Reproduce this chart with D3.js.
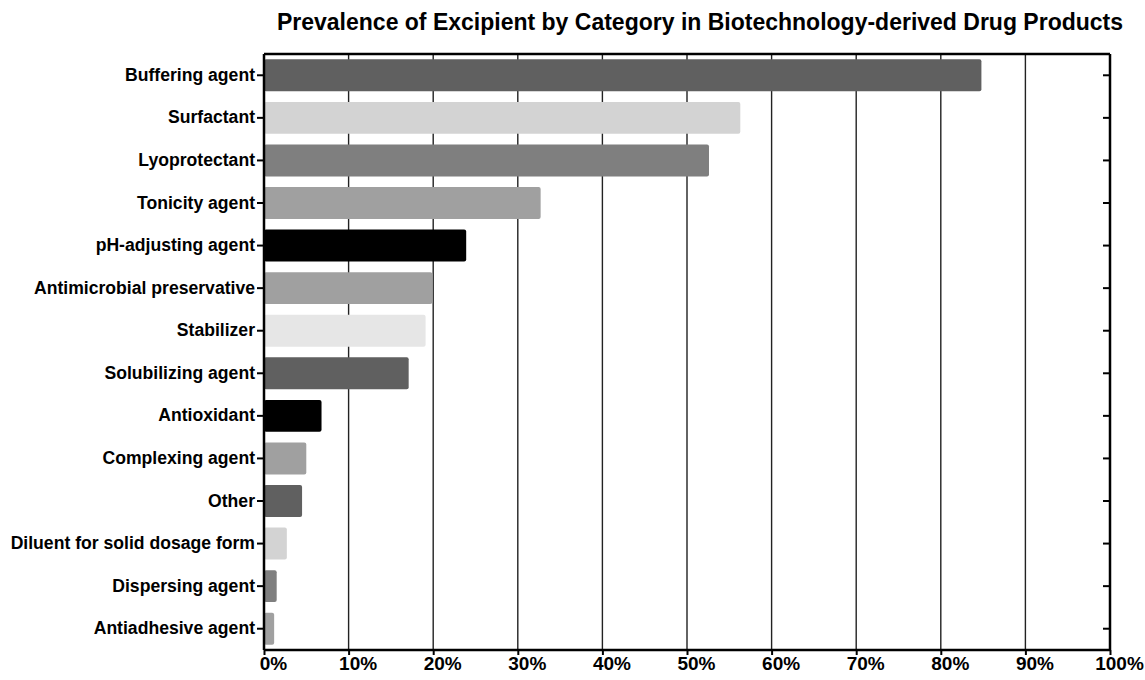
<!DOCTYPE html>
<html><head><meta charset="utf-8">
<script src="https://cdn.jsdelivr.net/npm/d3@7/dist/d3.min.js"></script>
<style>body{margin:0;background:#fff}svg{display:block}text{font-family:"Liberation Sans",Arial,sans-serif}</style>
</head><body>
<svg id="c" width="1145" height="680"></svg>
<script>
const categories = ["Buffering agent","Surfactant","Lyoprotectant","Tonicity agent","pH-adjusting agent","Antimicrobial preservative","Stabilizer","Solubilizing agent","Antioxidant","Complexing agent","Other","Diluent for solid dosage form","Dispersing agent","Antiadhesive agent"];
const values = [84.8, 56.3, 52.6, 32.7, 23.9, 19.9, 19.1, 17.1, 6.8, 5.0, 4.5, 2.7, 1.5, 1.2];
const barColors = ["#606060","#d3d3d3","#7f7f7f","#a0a0a0","#000000","#a0a0a0","#e6e6e6","#606060","#000000","#a0a0a0","#606060","#d3d3d3","#7f7f7f","#a0a0a0"];
const xTicks = [0,10,20,30,40,50,60,70,80,90,100];
const title = "Prevalence of Excipient by Category in Biotechnology-derived Drug Products";

const svg = d3.select("#c");
const L = 264, R = 1110, T = 54, B = 650;
const x = d3.scaleLinear().domain([0,100]).range([L,R]);
const y = d3.scaleBand().domain(categories).range([T,B]).paddingInner(0.25).paddingOuter(0.125);

// gridlines
svg.append("g").selectAll("line").data(xTicks.slice(1,-1)).join("line")
  .attr("x1",d=>x(d)).attr("x2",d=>x(d)).attr("y1",T).attr("y2",B)
  .attr("stroke","#222").attr("stroke-width",1.4);

// bars
svg.append("g").selectAll("rect").data(categories).join("rect")
  .attr("x",x(0)).attr("y",d=>y(d)).attr("height",y.bandwidth())
  .attr("width",(d,i)=>x(values[i])-x(0)).attr("rx",2).attr("ry",2)
  .attr("fill",(d,i)=>barColors[i]);

// frame
svg.append("line").attr("x1",L).attr("x2",R).attr("y1",T).attr("y2",T).attr("stroke","#000").attr("stroke-width",2.5);
svg.append("line").attr("x1",R).attr("x2",R).attr("y1",T).attr("y2",B).attr("stroke","#000").attr("stroke-width",2.5);

// right inward ticks
svg.append("g").selectAll("line").data(categories).join("line")
  .attr("x1",R-7).attr("x2",R).attr("y1",d=>y(d)+y.bandwidth()/2).attr("y2",d=>y(d)+y.bandwidth()/2)
  .attr("stroke","#000").attr("stroke-width",2);

// left axis
const yAxis = svg.append("g").attr("transform",`translate(${L},0)`)
  .call(d3.axisLeft(y).tickSize(7).tickPadding(2));
yAxis.select(".domain").attr("stroke-width",2.5).attr("d",`M0,${T}V${B}`);
yAxis.selectAll(".tick line").attr("stroke-width",2);
yAxis.selectAll(".tick text").attr("font-size",17.6).attr("font-weight","bold").attr("fill","#000").attr("font-family","'Liberation Sans',Arial,sans-serif");

// bottom axis
const xAxis = svg.append("g").attr("transform",`translate(0,${B})`)
  .call(d3.axisBottom(x).tickValues(xTicks).tickFormat(d=>d+"%").tickSize(5).tickPadding(2));
xAxis.select(".domain").attr("stroke-width",2.5).attr("d",`M${L},0H${R}`);
xAxis.selectAll(".tick line").attr("stroke-width",2);
xAxis.selectAll(".tick text").attr("font-size",19).attr("font-weight","bold").attr("fill","#000").attr("font-family","'Liberation Sans',Arial,sans-serif").attr("dx",9);

// title
svg.append("text").attr("x",700).attr("y",30).attr("text-anchor","middle")
  .attr("font-size",23).attr("font-weight","bold").attr("fill","#000").text(title);
</script>
</body></html>
